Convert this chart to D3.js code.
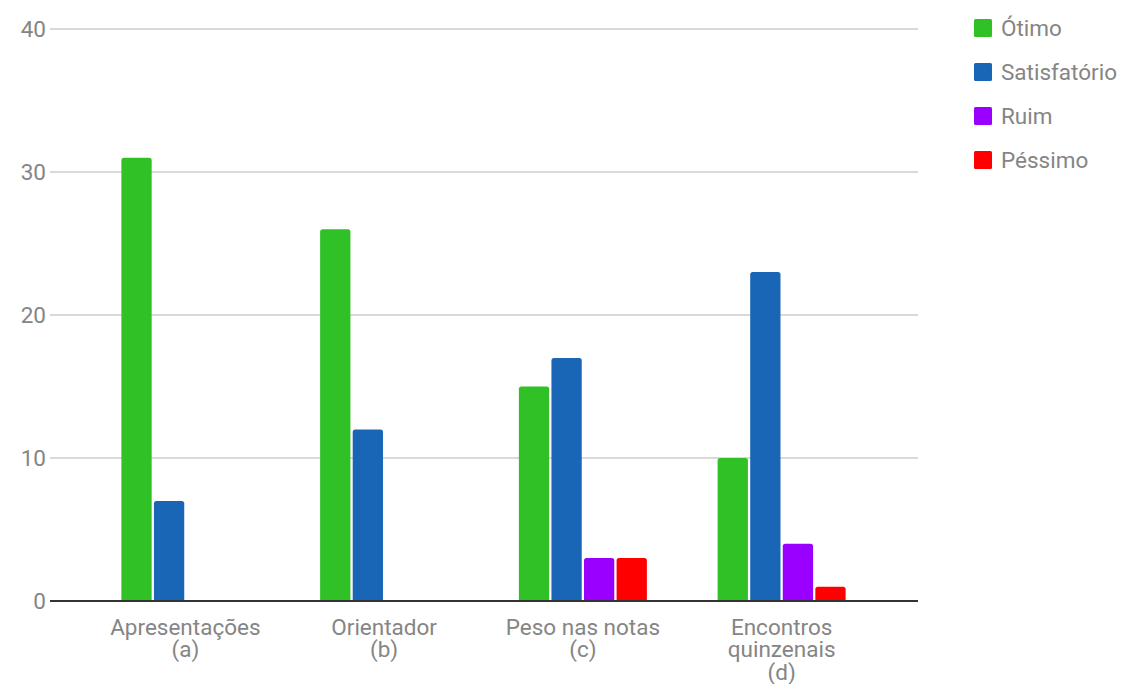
<!DOCTYPE html>
<html>
<head>
<meta charset="utf-8">
<script src="https://cdn.jsdelivr.net/npm/d3@7"></script>
<style>
  html, body { margin: 0; padding: 0; background: #fff; }
  svg text { font-family: Roboto, "Noto Sans", sans-serif; }
</style>
</head>
<body>
<svg id="chart" width="1127" height="684"></svg>
<script>
// Survey answers per aspect of the project
const categories = [
  ["Apresentações", "(a)"],
  ["Orientador", "(b)"],
  ["Peso nas notas", "(c)"],
  ["Encontros", "quinzenais", "(d)"]
];
const seriesNames = ["Ótimo", "Satisfatório", "Ruim", "Péssimo"];
const otimo        = [31, 26, 15, 10];
const satisfatorio = [7, 12, 17, 23];
const ruim         = [0, 0, 3, 4];
const pessimo      = [0, 0, 3, 1];
const yTicks = [0, 10, 20, 30, 40];
const colors = ["#2fc126", "#1a66b6", "#9900ff", "#ff0000"];

const seriesValues = [otimo, satisfatorio, ruim, pessimo];

const svg = d3.select("#chart");
const plot = { left: 50, right: 918, top: 29, bottom: 601 };
const fontSize = 22.5;
const lineStep = 22.5;

const y = d3.scaleLinear().domain([0, 40]).range([plot.bottom, plot.top]);

const x0 = d3.scaleBand()
  .domain(d3.range(categories.length))
  .range([86, 881])
  .paddingInner(0.356)
  .paddingOuter(0.178);

const x1 = d3.scaleBand()
  .domain(d3.range(seriesNames.length))
  .range([0, x0.bandwidth()])
  .paddingInner(0.07);

const textColor = "#858585";

// horizontal gridlines
svg.append("g")
  .selectAll("line")
  .data(yTicks.filter(t => t !== 0))
  .join("line")
  .attr("x1", plot.left).attr("x2", plot.right)
  .attr("y1", d => y(d)).attr("y2", d => y(d))
  .attr("stroke", "#cccccc").attr("stroke-width", 1.3);

// y tick labels
svg.append("g")
  .selectAll("text")
  .data(yTicks)
  .join("text")
  .attr("x", 46)
  .attr("y", d => y(d))
  .attr("dy", "0.35em")
  .attr("text-anchor", "end")
  .attr("fill", textColor)
  .attr("font-size", fontSize)
  .text(d => d);

// bars
const groups = svg.append("g")
  .selectAll("g")
  .data(categories.map((c, i) => i))
  .join("g")
  .attr("transform", i => `translate(${x0(i)},0)`);

const r = 2.5;
groups.selectAll("path")
  .data(i => seriesValues.map((vals, s) => ({ s, v: vals[i] })).filter(d => d.v > 0))
  .join("path")
  .attr("fill", d => colors[d.s])
  .attr("d", d => {
    const bx = x1(d.s), bw = x1.bandwidth();
    const top = y(d.v), bot = y(0);
    return `M${bx},${bot}V${top + r}Q${bx},${top} ${bx + r},${top}H${bx + bw - r}Q${bx + bw},${top} ${bx + bw},${top + r}V${bot}Z`;
  });

// baseline
svg.append("line")
  .attr("x1", plot.left).attr("x2", plot.right)
  .attr("y1", y(0)).attr("y2", y(0))
  .attr("stroke", "#333333").attr("stroke-width", 1.8);

// category labels
const labels = svg.append("g")
  .selectAll("text")
  .data(categories)
  .join("text")
  .attr("x", (d, i) => x0(i) + x0.bandwidth() / 2)
  .attr("y", 627)
  .attr("text-anchor", "middle")
  .attr("fill", textColor)
  .attr("font-size", fontSize);
labels.selectAll("tspan")
  .data(d => d)
  .join("tspan")
  .attr("x", function () { return this.parentNode.getAttribute("x"); })
  .attr("dy", (d, i) => i === 0 ? "0.35em" : lineStep)
  .text(d => d);

// legend
const legend = svg.append("g")
  .selectAll("g")
  .data(seriesNames)
  .join("g")
  .attr("transform", (d, i) => `translate(974,${28 + i * 44})`);
legend.append("rect")
  .attr("x", 0).attr("y", -9)
  .attr("width", 18).attr("height", 18)
  .attr("rx", 1.5)
  .attr("fill", (d, i) => colors[i]);
legend.append("text")
  .attr("x", 27).attr("y", 0)
  .attr("dy", "0.35em")
  .attr("fill", textColor)
  .attr("font-size", fontSize)
  .text(d => d);
</script>
</body>
</html>
